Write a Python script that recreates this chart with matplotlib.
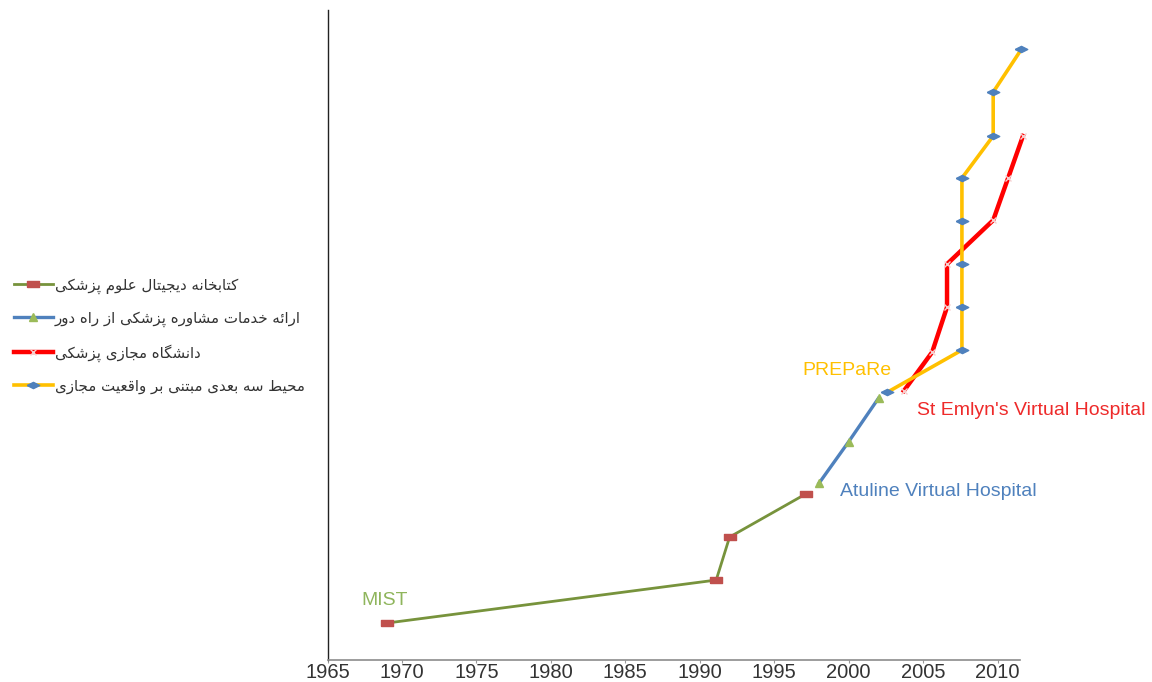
import matplotlib
matplotlib.use("Agg")
import matplotlib.pyplot as plt

# ---------------- data ----------------
library_years = [1969, 1991.1, 1992, 1997.1]
library_vals = [1.0, 2.0, 3.0, 4.0]

consult_years = [1998, 2000, 2002]
consult_vals = [4.25, 5.22, 6.23]

univ_years = [2003.7, 2005.6, 2006.6, 2006.6, 2009.7, 2010.7, 2011.7]
univ_vals = [6.4, 7.3, 8.35, 9.35, 10.37, 11.35, 12.33]

vr_years = [2002.6, 2007.6, 2007.6, 2007.6, 2007.6, 2007.6, 2009.7, 2009.7, 2011.6]
vr_vals = [6.37, 7.35, 8.35, 9.35, 10.35, 11.35, 12.33, 13.35, 14.35]

legend_labels = [
    "کتابخانه دیجیتال علوم پزشکی",
    "ارائه خدمات مشاوره پزشکی از راه دور",
    "دانشگاه مجازی پزشکی",
    "محیط سه بعدی مبتنی بر واقعیت مجازی",
]

annotations = [
    ("MIST", 1967.3, 1.53, "#8fb55c"),
    ("Atuline Virtual Hospital", 1999.4, 4.05, "#4f81bd"),
    ("PREPaRe", 1996.9, 6.88, "#ffc000"),
    ("St Emlyn's Virtual Hospital", 2004.6, 5.95, "#ee2a2a"),
]

x_ticks = [1965, 1970, 1975, 1980, 1985, 1990, 1995, 2000, 2005, 2010]

# ---------------- simple Persian shaping (presentation forms) ----------------
FORMS = {
    'ا': ('\uFE8D', '\uFE8E', None, None),
    'ئ': ('\uFE89', '\uFE8A', '\uFE8B', '\uFE8C'),
    'ب': ('\uFE8F', '\uFE90', '\uFE91', '\uFE92'),
    'ت': ('\uFE95', '\uFE96', '\uFE97', '\uFE98'),
    'ج': ('\uFE9D', '\uFE9E', '\uFE9F', '\uFEA0'),
    'ح': ('\uFEA1', '\uFEA2', '\uFEA3', '\uFEA4'),
    'خ': ('\uFEA5', '\uFEA6', '\uFEA7', '\uFEA8'),
    'د': ('\uFEA9', '\uFEAA', None, None),
    'ر': ('\uFEAD', '\uFEAE', None, None),
    'ز': ('\uFEAF', '\uFEB0', None, None),
    'س': ('\uFEB1', '\uFEB2', '\uFEB3', '\uFEB4'),
    'ش': ('\uFEB5', '\uFEB6', '\uFEB7', '\uFEB8'),
    'ط': ('\uFEC1', '\uFEC2', '\uFEC3', '\uFEC4'),
    'ع': ('\uFEC9', '\uFECA', '\uFECB', '\uFECC'),
    'ق': ('\uFED5', '\uFED6', '\uFED7', '\uFED8'),
    'ل': ('\uFEDD', '\uFEDE', '\uFEDF', '\uFEE0'),
    'م': ('\uFEE1', '\uFEE2', '\uFEE3', '\uFEE4'),
    'ن': ('\uFEE5', '\uFEE6', '\uFEE7', '\uFEE8'),
    'ه': ('\uFEE9', '\uFEEA', '\uFEEB', '\uFEEC'),
    'و': ('\uFEED', '\uFEEE', None, None),
    'پ': ('\uFB56', '\uFB57', '\uFB58', '\uFB59'),
    'ک': ('\uFB8E', '\uFB8F', '\uFB90', '\uFB91'),
    'گ': ('\uFB92', '\uFB93', '\uFB94', '\uFB95'),
    'ی': ('\uFBFC', '\uFBFD', '\uFBFE', '\uFBFF'),
}


def shape(text):
    chars = list(text)
    out = []
    for i, c in enumerate(chars):
        if c not in FORMS:
            out.append(c)
            continue
        iso, fin, ini, med = FORMS[c]
        prev = chars[i - 1] if i > 0 else None
        nxt = chars[i + 1] if i + 1 < len(chars) else None
        jp = prev in FORMS and FORMS[prev][2] is not None
        jn = (nxt in FORMS) and ini is not None
        if jp and jn:
            out.append(med)
        elif jp:
            out.append(fin)
        elif jn:
            out.append(ini)
        else:
            out.append(iso)
    return ''.join(reversed(out))


# ---------------- figure ----------------
fig = plt.figure(figsize=(11.52, 6.82), dpi=100)
ax = fig.add_axes([327.5 / 1152, 22 / 682, (1020 - 327.5) / 1152, 650 / 682])

rect = [(-1, -0.5), (1, -0.5), (1, 0.5), (-1, 0.5), (-1, -0.5)]
flat_diamond = [(-1, 0), (0, 0.5), (1, 0), (0, -0.5), (-1, 0)]

l1, = ax.plot(library_years, library_vals, color="#77933c", lw=2.0,
              marker=rect, markersize=9, markerfacecolor="#c0504d",
              markeredgecolor="#c0504d", clip_on=False, zorder=3)
l2, = ax.plot(consult_years, consult_vals, color="#4f81bd", lw=2.4,
              marker="^", markersize=6, markerfacecolor="#9bbb59",
              markeredgecolor="#9bbb59", clip_on=False, zorder=3)
l3, = ax.plot(univ_years, univ_vals, color="#ff0000", lw=3.2,
              marker="x", markersize=5, markeredgecolor="#f6d0d0",
              markeredgewidth=1, clip_on=False, zorder=3)
l4, = ax.plot(vr_years, vr_vals, color="#ffc000", lw=2.6,
              marker=flat_diamond, markersize=9, markerfacecolor="#4f81bd",
              markeredgecolor="#4f81bd", clip_on=False, zorder=4)

for txt, x, y, col in annotations:
    ax.text(x, y, txt, color=col, fontsize=14, family="Liberation Sans",
            ha="left", va="center")

ax.set_xlim(1965, 2011.5)
ax.set_ylim(0.14, 15.26)
ax.set_xticks(x_ticks)
ax.set_xticklabels([str(t) for t in x_ticks], family="Liberation Sans",
                   fontsize=14.5, color="#333333")
ax.set_yticks([])
ax.tick_params(axis="x", direction="out", length=2, color="#999999", pad=0)

for s in ["top", "right"]:
    ax.spines[s].set_visible(False)
ax.spines["bottom"].set_color("#8c8c8c")
ax.spines["bottom"].set_linewidth(1.2)
ax.spines["left"].set_color("#222222")
ax.spines["left"].set_linewidth(1.0)

handles = [l1, l2, l3, l4]
leg = fig.legend(handles, [shape(t) for t in legend_labels],
                 loc="upper left", bbox_to_anchor=(0 / 1152, 1 - 264 / 682),
                 frameon=False, handlelength=2.6,
                 handletextpad=0.15, labelspacing=1.13,
                 prop={"family": "DejaVu Sans", "size": 10.8})
for t in leg.get_texts():
    t.set_color("#333333")

fig.savefig("out.png", dpi=100)
